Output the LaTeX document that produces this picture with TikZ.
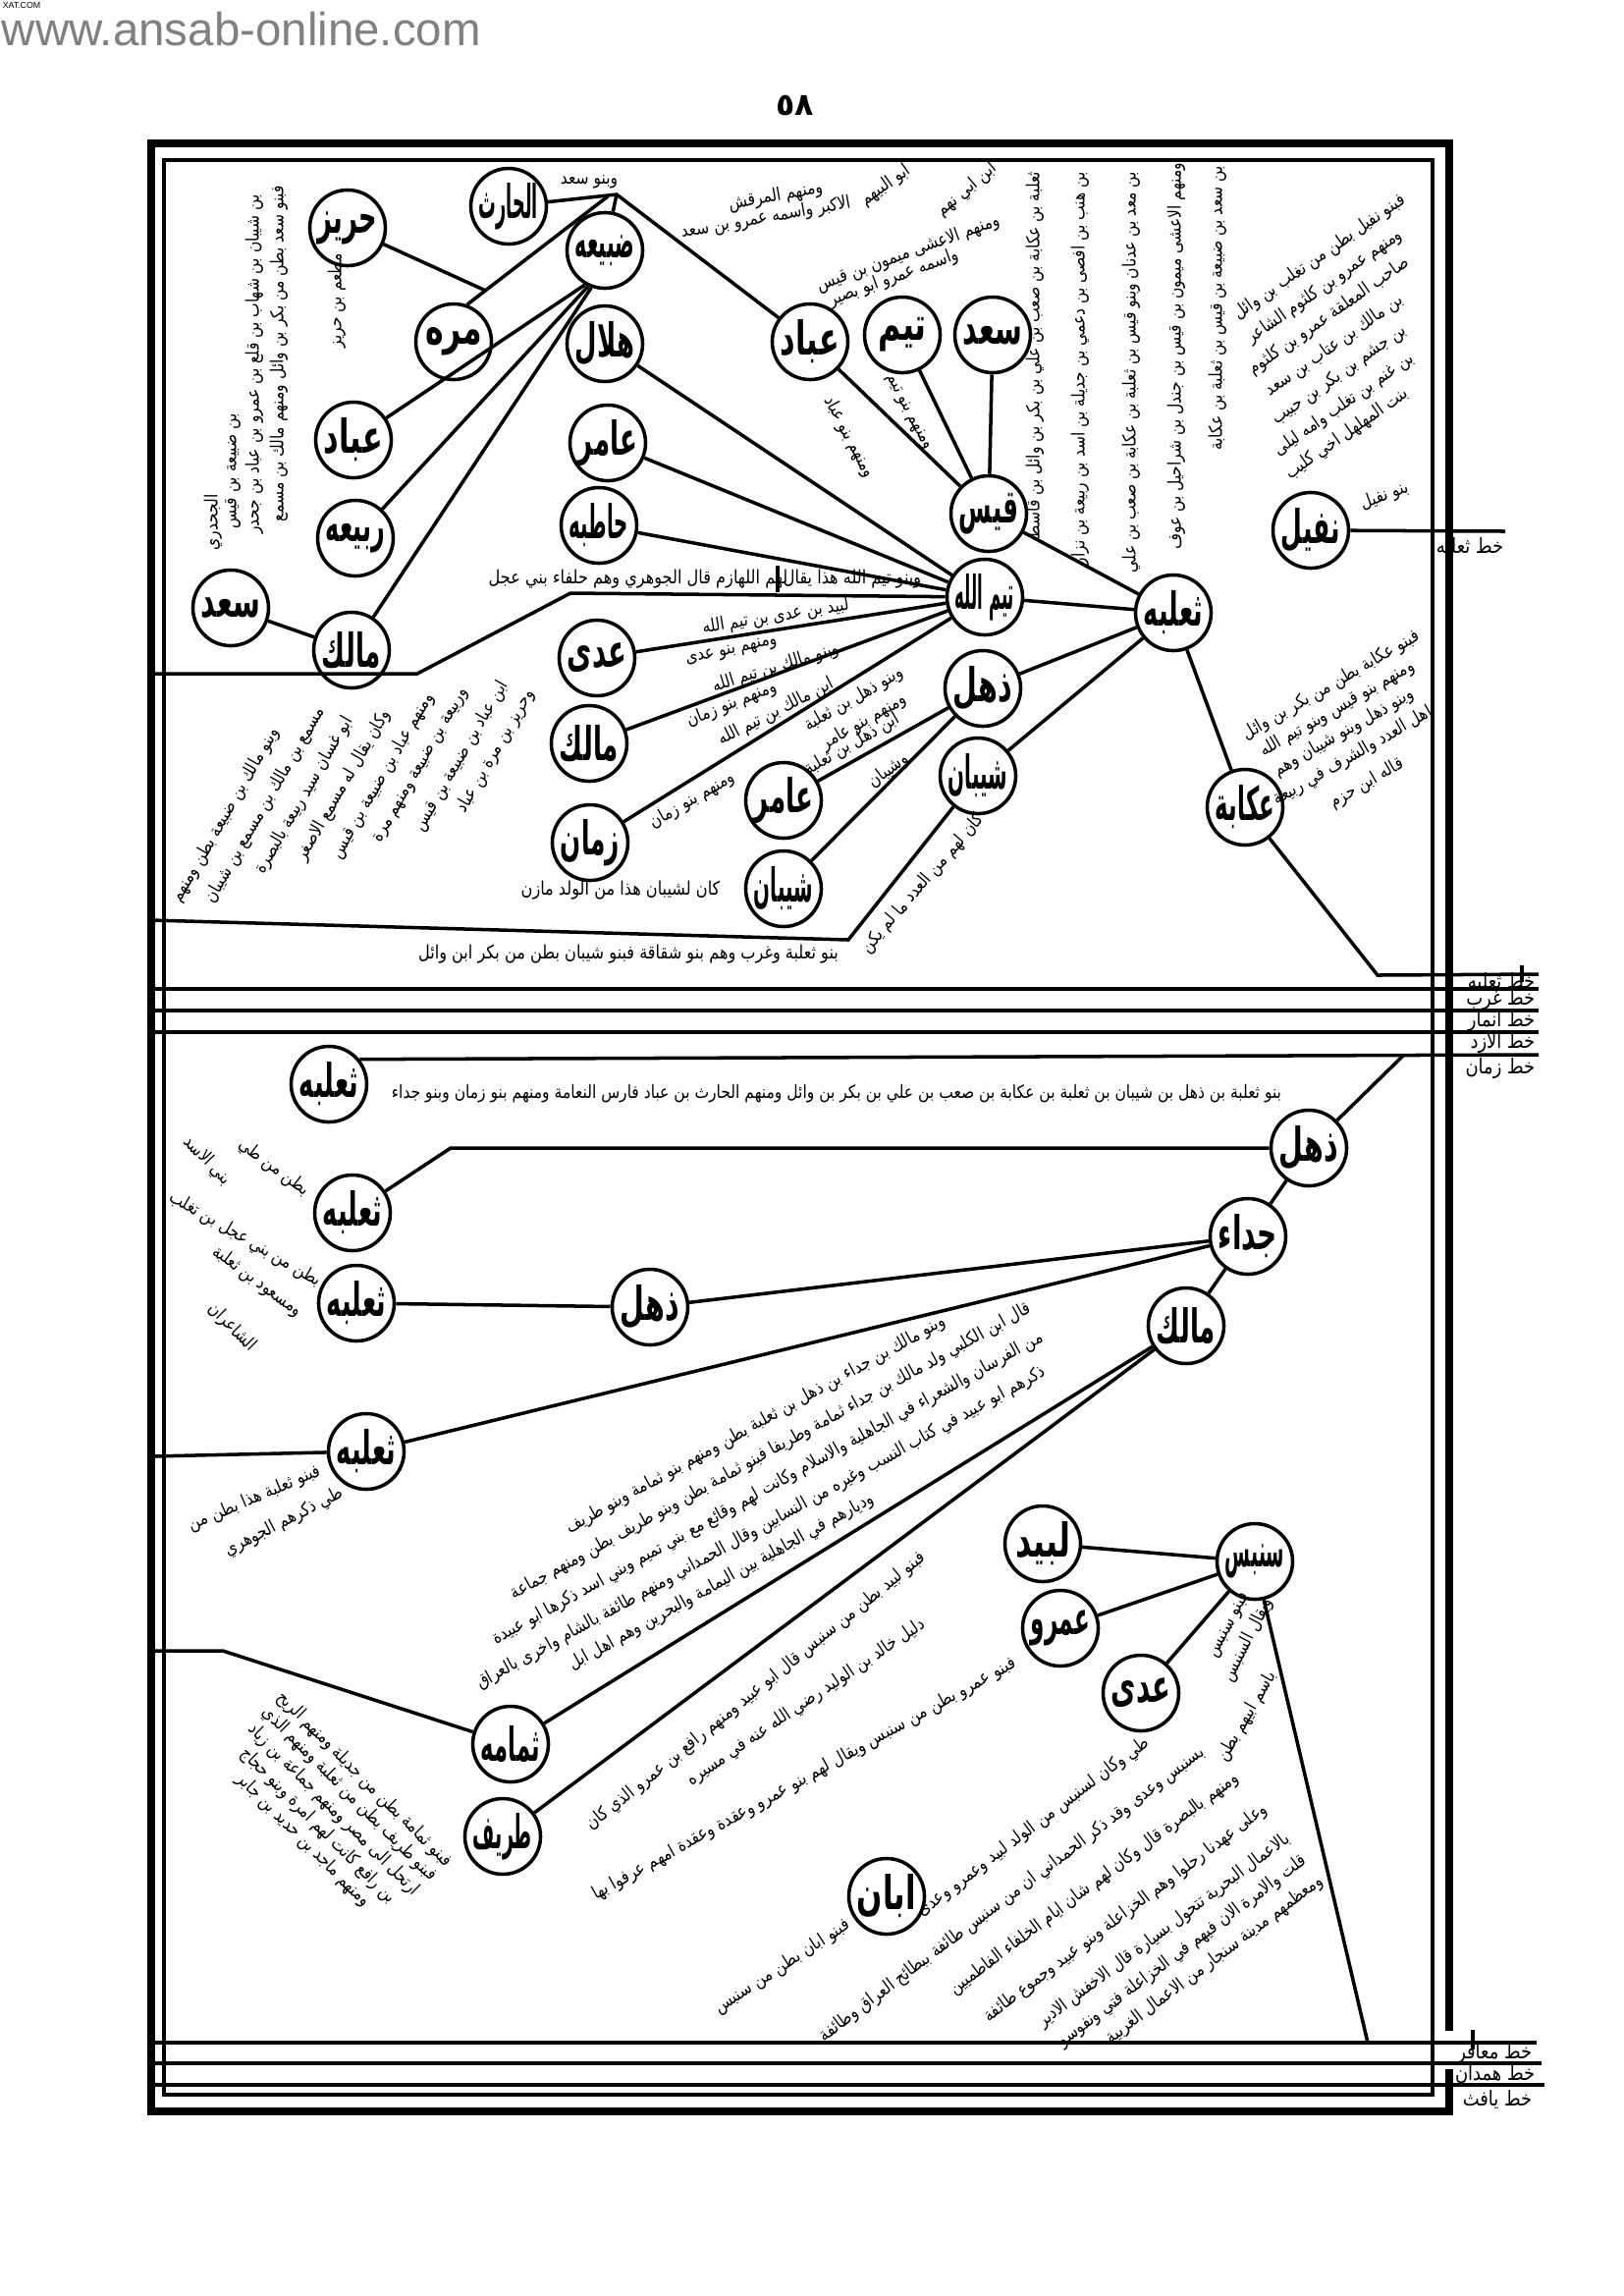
\documentclass[tikz,border=0pt]{standalone}
\usepackage{graphicx}
\usepackage{fontspec}
\usetikzlibrary{calc}
\newfontfamily\arabo[Script=Arabic]{DejaVu Sans}
\newfontfamily\araboc[Script=Arabic, FakeStretch=0.85]{DejaVu Sans}
\newfontfamily\sito{Liberation Sans}
\newfontfamily\cifre{DejaVu Sans}
\TeXXeTstate=1
\newcommand{\ara}[1]{\beginR#1\endR}
\newsavebox{\nomebox}
\newcommand{\nome}[1]{\sbox{\nomebox}{\ara{#1}}%
  \ifdim\wd\nomebox>0.6cm\relax
    \resizebox{0.6cm}{1.5\height}{\usebox{\nomebox}}%
  \else
    \scalebox{1}[1.5]{\usebox{\nomebox}}%
  \fi}
\begin{document}
\begin{tikzpicture}[x=0.01cm, y=-0.01cm, line width=1pt,
  nodo/.style={circle, draw, minimum size=0.77cm, inner sep=0pt, font=\arabo\bfseries\fontsize{9}{9}\selectfont},
  nota/.style={inner sep=0pt, font=\araboc\fontsize{5.2}{6}\selectfont},
  testo/.style={inner sep=0pt, font=\araboc\fontsize{5.4}{6.5}\selectfont},
  etich/.style={inner sep=0pt, anchor=east, font=\araboc\fontsize{6}{7}\selectfont},
  riga/.style={line width=1.2pt},
  cornice/.style={line width=2.2pt}]
  \useasboundingbox (0,0) rectangle (1653,2338);
  % intestazione
  \node[anchor=north west, inner sep=0pt, font=\sito\fontsize{2.5}{3}\selectfont] (xat) at (1,1) {XAT.COM};
  \node[anchor=base west, inner sep=0pt, text=gray, font=\sito\fontsize{13.5}{14}\selectfont] (sito) at (0,46) {www.ansab-online.com};
  \node[inner sep=0pt, font=\cifre\bfseries\fontsize{9}{9}\selectfont] (pagina) at (810,107) {٥٨};
  % cornice
  \draw[cornice] (1476,2068) -- (1476,146) -- (154,146) -- (154,2150) -- (1476,2150) -- (1476,2107);
  \draw (167,163) rectangle (1459,2133);
  % righe di mezzo e in basso
  \draw[riga] (154,1007) -- (1567,1007);
  \draw[riga] (154,1029) -- (1567,1029);
  \draw[riga] (154,1051) -- (1567,1051);
  \draw[riga] (154,2080) -- (1565,2080);
  \draw[riga] (154,2101) -- (1570,2101);
  \draw[riga] (154,2123) -- (1573,2123);
  \draw (1550,983) -- (1550,1000);
  \draw (1500,2067) -- (1500,2087);
  % etichette dei rami
  \node[etich] (e1) at (1565,1000) {\ara{خط ثعلبه}};
  \node[etich] (e2) at (1565,1018) {\ara{خط غرب}};
  \node[etich] (e3) at (1565,1040) {\ara{خط انمار}};
  \node[etich] (e4) at (1565,1062) {\ara{خط الازد}};
  \node[etich] (e5) at (1565,1088) {\ara{خط زمان}};
  \node[etich] (e6) at (1562,2091) {\ara{خط معافر}};
  \node[etich] (e7) at (1565,2112) {\ara{خط همدان}};
  \node[etich] (e8) at (1562,2138) {\ara{خط يافث}};
  \node[etich] (e9) at (1533,557) {\ara{خط ثعلبه}};

  % nodi parte alta
  \node[nodo] (thaalaba) at (1195,624) {\nome{ثعلبه}};
  \node[nodo] (qays) at (1007,523) {\nome{قيس}};
  \node[nodo] (saadA) at (1011,341) {\nome{سعد}};
  \node[nodo] (taym) at (919,341) {\nome{تيم}};
  \node[nodo] (ubbadA) at (825,348) {\nome{عباد}};
  \node[nodo] (taymallah) at (1003,608) {\nome{تيم الله}};
  \node[nodo] (dhuhlA) at (1001,701) {\nome{ذهل}};
  \node[nodo] (shaybanA) at (996,790) {\nome{شيبان}};
  \node[nodo] (ukaba) at (1268,822) {\nome{عكابة}};
  \node[nodo] (nufayl) at (1335,540) {\nome{نفيل}};
  \node[nodo] (harith) at (518,210) {\nome{الحارث}};
  \node[nodo] (dubaya) at (616,255) {\nome{ضبيعه}};
  \node[nodo] (hariz) at (354,232) {\nome{حريز}};
  \node[nodo] (murra) at (462,348) {\nome{مره}};
  \node[nodo] (hilal) at (616,350) {\nome{هلال}};
  \node[nodo] (ubbadB) at (360,448) {\nome{عباد}};
  \node[nodo] (amirA) at (619,451) {\nome{عامر}};
  \node[nodo] (hatiba) at (610,535) {\nome{حاطبه}};
  \node[nodo] (rabia) at (362,548) {\nome{ربيعه}};
  \node[nodo] (saadB) at (235,619) {\nome{سعد}};
  \node[nodo] (malikA) at (358,662) {\nome{مالك}};
  \node[nodo] (adiA) at (608,670) {\nome{عدى}};
  \node[nodo] (malikB) at (600,757) {\nome{مالك}};
  \node[nodo] (zamman) at (601,858) {\nome{زمان}};
  \node[nodo] (amirB) at (798,815) {\nome{عامر}};
  \node[nodo] (shaybanB) at (798,905) {\nome{شيبان}};
  % punti di appoggio
  \coordinate (J) at (628,198);
  \coordinate (J2) at (619,200);
  \coordinate (jm) at ($(J2)!0.87!(murra.70)$);
  \coordinate (kA) at (581,604);
  \coordinate (kB) at (425,686);
  \coordinate (kC) at (154,686);
  \coordinate (kD) at (864,957);
  \coordinate (kE) at (154,937);
  \coordinate (kF) at (1403,993);
  \coordinate (kG) at (1567,992);
  \coordinate (kH) at (1533,541);
  % collegamenti parte alta
  \draw (thaalaba) -- (qays);
  \draw (thaalaba) -- (taymallah);
  \draw (thaalaba) -- (dhuhlA);
  \draw (thaalaba) -- (shaybanA);
  \draw (thaalaba) -- (ukaba);
  \draw (qays) -- (saadA);
  \draw (qays) -- (taym);
  \draw (qays) -- (ubbadA);
  \draw (taymallah) -- (hilal);
  \draw (taymallah) -- (amirA);
  \draw (taymallah) -- (hatiba);
  \draw (taymallah) -- (adiA);
  \draw (taymallah) -- (malikB);
  \draw (taymallah) -- (zamman);
  \draw (dhuhlA) -- (amirB);
  \draw (dhuhlA) -- (shaybanB);
  \draw (harith) -- (J) -- (ubbadA);
  \draw (J) -- (dubaya);
  \draw (J2) -- (murra.70);
  \draw (hariz) -- (jm);
  \draw (dubaya.240) -- (ubbadB);
  \draw (dubaya.245) -- (rabia);
  \draw (dubaya.250) -- (malikA);
  \draw (saadB) -- (malikA);
  \draw (taymallah) -- (kA) -- (kB) -- (kC);
  \draw (shaybanA) -- (kD) -- (kE);
  \draw (ukaba) -- (kF) -- (kG);
  \draw (nufayl) -- (kH);
  \draw (792,576) -- (792,603);
  % testi parte alta
  \node[nota] (t1) at (600,185) {\ara{وبنو سعد}};
  \node[nota, rotate=10] (t2) at (790,200) {\ara{ومنهم المرقش}};
  \node[nota, rotate=10] (t3) at (780,222) {\ara{الاكبر واسمه عمرو بن سعد}};
  \node[nota, rotate=20] (t4) at (925,258) {\ara{ومنهم الاعشى ميمون بن قيس}};
  \node[nota, rotate=20] (t5) at (910,283) {\ara{واسمه عمرو ابو بصير}};
  \node[nota, rotate=35] (t6) at (902,189) {\ara{ابو البيهم}};
  \node[nota, rotate=40] (t7) at (985,193) {\ara{ابن ابي نهم}};
  \node[nota, rotate=-62] (t8) at (865,445) {\ara{ومنهم بنو عباد}};
  \node[nota, rotate=-62] (t9) at (925,420) {\ara{ومنهم بنو تيم}};
  \node[nota, rotate=90] (k1) at (1054,362) {\ara{ثعلبة بن عكابة بن صعب بن علي بن بكر بن وائل بن قاسط}};
  \node[nota, rotate=90] (k2) at (1100,375) {\ara{بن هنب بن افصى بن دعمي بن جديلة بن اسد بن ربيعة بن نزار}};
  \node[nota, rotate=90] (k3) at (1152,379) {\ara{بن معد بن عدنان وبنو قيس بن ثعلبة بن عكابة بن صعب بن علي}};
  \node[nota, rotate=90] (k4) at (1198,363) {\ara{ومنهم الاعشى ميمون بن قيس بن جندل بن شراحيل بن عوف}};
  \node[nota, rotate=90] (k5) at (1240,314) {\ara{بن سعد بن ضبيعة بن قيس بن ثعلبة بن عكابة}};
  \node[nota, rotate=35] (n1) at (1344,262) {\ara{فبنو نفيل بطن من تغلب بن وائل}};
  \node[nota, rotate=35] (n2) at (1349,292) {\ara{ومنهم عمرو بن كلثوم الشاعر}};
  \node[nota, rotate=35] (n3) at (1354,322) {\ara{صاحب المعلقة عمرو بن كلثوم}};
  \node[nota, rotate=35] (n4) at (1359,352) {\ara{بن مالك بن عتاب بن سعد}};
  \node[nota, rotate=35] (n5) at (1364,382) {\ara{بن جشم بن بكر بن حبيب}};
  \node[nota, rotate=35] (n6) at (1369,412) {\ara{بن غنم بن تغلب وامه ليلى}};
  \node[nota, rotate=35] (n7) at (1372,442) {\ara{بنت المهلهل اخي كليب}};
  \node[nota, rotate=20] (n8) at (1410,505) {\ara{بنو نفيل}};
  \node[testo] (b1) at (868,590) {\ara{وبنو تيم الله هذا يقال}};
  \node[testo] (b2) at (650,590) {\ara{لهم اللهازم قال الجوهري وهم حلفاء بني عجل}};
  \node[nota, rotate=90] (l1) at (284,360) {\ara{فبنو سعد بطن من بكر بن وائل ومنهم مالك بن مسمع}};
  \node[nota, rotate=90] (l2) at (259,371) {\ara{بن شيبان بن شهاب بن قلع بن عمرو بن عباد بن جحدر}};
  \node[nota, rotate=90] (l3) at (237,480) {\ara{بن ضبيعة بن قيس}};
  \node[nota, rotate=90] (l4) at (217,532) {\ara{الجحدري}};
  \node[nota, rotate=90] (l5) at (343,306) {\ara{مطعم بن حريز}};
  \node[nota, rotate=60] (i1) at (230,830) {\ara{وبنو مالك بن ضبيعة بطن ومنهم}};
  \node[nota, rotate=60] (i2) at (270,820) {\ara{مسمع بن مالك بن مسمع بن شيبان}};
  \node[nota, rotate=60] (i3) at (310,810) {\ara{ابو غسان سيد ربيعة بالبصرة}};
  \node[nota, rotate=60] (i4) at (350,800) {\ara{وكان يقال له مسمع الاصغر}};
  \node[nota, rotate=60] (i5) at (390,790) {\ara{ومنهم عباد بن ضبيعة بن قيس}};
  \node[nota, rotate=60] (i6) at (430,780) {\ara{وربيعة بن ضبيعة ومنهم مرة}};
  \node[nota, rotate=60] (i7) at (470,770) {\ara{ابن عباد بن ضبيعة بن قيس}};
  \node[nota, rotate=60] (i8) at (505,765) {\ara{وحريز بن مرة بن عباد}};
  \node[nota, rotate=9] (m1) at (790,628) {\ara{لبيد بن عدى بن تيم الله}};
  \node[nota, rotate=12] (m2) at (745,663) {\ara{ومنهم بنو عدى}};
  \node[nota, rotate=17] (m3) at (790,680) {\ara{وبنو مالك بن تيم الله}};
  \node[nota, rotate=22] (m4) at (745,717) {\ara{ومنهم بنو زمان}};
  \node[nota, rotate=27] (m5) at (790,725) {\ara{ابن مالك بن تيم الله}};
  \node[nota, rotate=30] (m6) at (870,712) {\ara{وبنو ذهل بن ثعلبة}};
  \node[nota, rotate=30] (m7) at (880,735) {\ara{ومنهم بنو عامر}};
  \node[nota, rotate=30] (m8) at (868,758) {\ara{ابن ذهل بن ثعلبة}};
  \node[nota, rotate=37] (m9) at (905,785) {\ara{وشيبان}};
  \node[nota, rotate=30] (m10) at (705,815) {\ara{ومنهم بنو زمان}};
  \node[testo] (s1) at (632,907) {\ara{كان لشيبان هذا من الولد مازن}};
  \node[testo] (s2) at (640,972) {\ara{بنو ثعلبة وغرب وهم بنو شقاقة فبنو شيبان بطن من بكر ابن وائل}};
  \node[nota, rotate=49] (s3) at (940,900) {\ara{كان لهم من العدد ما لم يكن}};
  \node[nota, rotate=30] (a1) at (1356,698) {\ara{فبنو عكابة بطن من بكر بن وائل}};
  \node[nota, rotate=30] (a2) at (1362,722) {\ara{ومنهم بنو قيس وبنو تيم الله}};
  \node[nota, rotate=30] (a3) at (1369,746) {\ara{وبنو ذهل وبنو شيبان وهم}};
  \node[nota, rotate=30] (a4) at (1378,770) {\ara{اهل العدد والشرف في ربيعة}};
  \node[nota, rotate=30] (a5) at (1392,798) {\ara{قاله ابن حزم}};

  % nodi parte bassa
  \node[nodo] (thaalabaA) at (335,1104) {\nome{ثعلبه}};
  \node[nodo] (dhuhlB) at (1333,1169) {\nome{ذهل}};
  \node[nodo] (thaalabaB) at (359,1235) {\nome{ثعلبه}};
  \node[nodo] (jaddaa) at (1271,1259) {\nome{جداء}};
  \node[nodo] (thaalabaC) at (363,1327) {\nome{ثعلبه}};
  \node[nodo] (dhuhlC) at (662,1331) {\nome{ذهل}};
  \node[nodo] (malikC) at (1208,1350) {\nome{مالك}};
  \node[nodo] (thaalabaD) at (373,1478) {\nome{ثعلبه}};
  \node[nodo] (labid) at (1062,1572) {\nome{لبيد}};
  \node[nodo] (sinbis) at (1278,1590) {\nome{سنبس}};
  \node[nodo] (amr) at (1080,1658) {\nome{عمرو}};
  \node[nodo] (adiB) at (1162,1724) {\nome{عدى}};
  \node[nodo] (thumama) at (520,1776) {\nome{ثمامه}};
  \node[nodo] (tarif) at (512,1870) {\nome{طريف}};
  \node[nodo] (aban) at (903,1931) {\nome{ابان}};
  % punti di appoggio
  \coordinate (kZ) at (1567,1074);
  \coordinate (kI) at (1429,1075);
  \coordinate (kJ) at (459,1169);
  \coordinate (kK) at (154,1483);
  \coordinate (kL) at (227,1681);
  \coordinate (kM) at (154,1681);
  \coordinate (kN) at (1393,2080);
  % collegamenti parte bassa
  \draw (thaalabaA.39) -- (kZ);
  \draw (dhuhlB) -- (kI);
  \draw (dhuhlB) -- (kJ) -- (thaalabaB);
  \draw (dhuhlB) -- (jaddaa);
  \draw (jaddaa) -- (dhuhlC);
  \draw (dhuhlC) -- (thaalabaC);
  \draw (jaddaa) -- (thaalabaD);
  \draw (thaalabaD) -- (kK);
  \draw (jaddaa) -- (malikC);
  \draw (malikC) -- (thumama);
  \draw (malikC) -- (tarif);
  \draw (thumama) -- (kL) -- (kM);
  \draw (sinbis) -- (labid);
  \draw (sinbis) -- (amr);
  \draw (sinbis) -- (adiB);
  \draw (sinbis) -- (kN);
  % testi parte bassa
  \node[nota] (u1) at (852,1114) {\ara{بنو ثعلبة بن ذهل بن شيبان بن ثعلبة بن عكابة بن صعب بن علي بن بكر بن وائل ومنهم الحارث بن عباد فارس النعامة ومنهم بنو زمان وبنو جداء}};
  \node[nota, rotate=-37] (p1) at (279,1189) {\ara{بطن من طي}};
  \node[nota, rotate=-46] (p2) at (211,1182) {\ara{بني الاسد}};
  \node[nota, rotate=-30] (p3) at (250,1262) {\ara{بطن من بني عجل بن تغلب}};
  \node[nota, rotate=-36] (p4) at (262,1305) {\ara{ومسعود بن ثعلبة}};
  \node[nota, rotate=-45] (p5) at (236,1352) {\ara{الشاعران}};
  \node[nota, rotate=23] (q1) at (259,1526) {\ara{فبنو ثعلبة هذا بطن من}};
  \node[nota, rotate=27] (q2) at (289,1550) {\ara{طي ذكرهم الجوهري}};
  \node[nota, rotate=29] (r1) at (770,1451) {\ara{وبنو مالك بن جداء بن ذهل بن ثعلبة بطن ومنهم بنو ثمامة وبنو طريف}};
  \node[nota, rotate=29] (r2) at (785,1478) {\ara{قال ابن الكلبي ولد مالك بن جداء ثمامة وطريفا فبنو ثمامة بطن وبنو طريف بطن ومنهم جماعة}};
  \node[nota, rotate=29] (r3) at (782,1516) {\ara{من الفرسان والشعراء في الجاهلية والاسلام وكانت لهم وقائع مع بني تميم وبني اسد ذكرها ابو عبيدة}};
  \node[nota, rotate=29] (r4) at (775,1556) {\ara{ذكرهم ابو عبيد في كتاب النسب وغيره من النسابين وقال الحمداني ومنهم طائفة بالشام واخرى بالعراق}};
  \node[nota, rotate=29] (r5) at (735,1611) {\ara{وديارهم في الجاهلية بين اليمامة والبحرين وهم اهل ابل}};
  \node[nota, anchor=east, rotate=39] (v1) at (942,1583) {\ara{فبنو لبيد بطن من سنبس قال ابو عبيد ومنهم رافع بن عمرو الذي كان}};
  \node[nota, anchor=east, rotate=34] (v2) at (942,1652) {\ara{دليل خالد بن الوليد رضي الله عنه في مسيره}};
  \node[nota, anchor=east, rotate=29] (v3) at (1035,1692) {\ara{فبنو عمرو بطن من سنبس ويقال لهم بنو عمرو وعقدة وعقدة امهم عرفوا بها}};
  \node[nota, rotate=-45] (w1) at (371,1812) {\ara{فبنو ثمامة بطن من جديلة ومنهم الريح}};
  \node[nota, rotate=-45] (w2) at (356,1827) {\ara{فبنو طريف بطن من ثعلبة ومنهم الذي}};
  \node[nota, rotate=-45] (w3) at (340,1843) {\ara{ارتحل الى مصر ومنهم جماعة بن زياد}};
  \node[nota, rotate=-45] (w4) at (324,1859) {\ara{بن رافع كانت لهم امرة وبنو حجاج}};
  \node[nota, rotate=-45] (w5) at (309,1874) {\ara{ومنهم ماجد بن حديد بن جابر}};
  \node[nota, rotate=63] (x1) at (1252,1655) {\ara{فبنو سنبس}};
  \node[nota, rotate=63] (x2) at (1271,1670) {\ara{ويقال السنبس}};
  \node[nota, rotate=60] (x3) at (1270,1748) {\ara{باسم ابيهم بطن}};
  \node[nota, anchor=east, rotate=37] (y1) at (1170,1772) {\ara{طي وكان لسنبس من الولد لبيد وعمرو وعدى}};
  \node[nota, anchor=east, rotate=37] (y2) at (1226,1782) {\ara{بسنبس وعدى وقد ذكر الحمداني ان من سنبس طائفة ببطائح العراق وطائفة}};
  \node[nota, anchor=east, rotate=37] (y3) at (1261,1808) {\ara{ومنهم بالبصرة قال وكان لهم شان ايام الخلفاء الفاطميين}};
  \node[nota, anchor=east, rotate=37] (y4) at (1290,1840) {\ara{وعلى عهدنا رحلوا وهم الخزاعلة وبنو عبيد وجموع طائفة}};
  \node[nota, anchor=east, rotate=37] (y5) at (1313,1870) {\ara{بالاعمال البحرية تتحول بسيارة قال الاخفش الادير}};
  \node[nota, anchor=east, rotate=37] (y6) at (1330,1892) {\ara{قلت والامرة الان فيهم في الخزاعلة فتي ونفوسو}};
  \node[nota, anchor=east, rotate=37] (y7) at (1347,1913) {\ara{ومعظمهم مدينة سنجار من الاعمال الغربية}};
  \node[nota, anchor=east, rotate=33] (y8) at (866,1958) {\ara{فبنو ابان بطن من سنبس}};
\end{tikzpicture}
\end{document}
